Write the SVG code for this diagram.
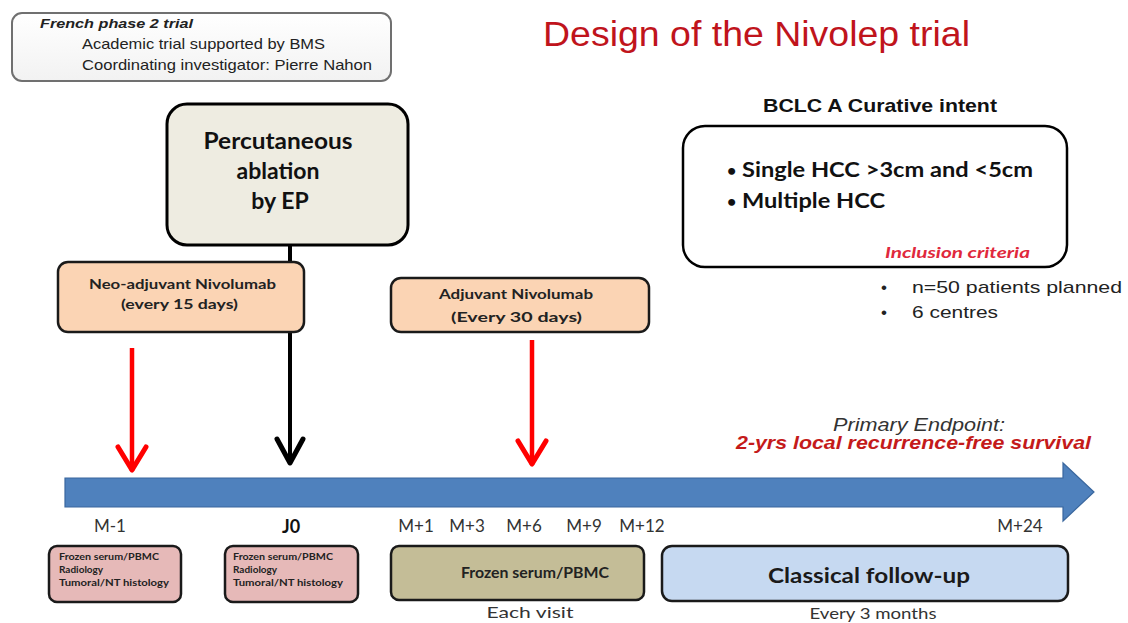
<svg xmlns="http://www.w3.org/2000/svg" width="1128" height="623" viewBox="0 0 1128 623">
<defs>
<style>
.ar{font-family:"Liberation Sans",Arial,sans-serif}
.ca{font-family:Lato,"Open Sans",sans-serif}
.b{font-weight:bold}
.it{font-style:italic}
.box{stroke:#1a1a1a;stroke-width:2.5}
.mid{text-anchor:middle}
</style>
<linearGradient id="info-grad" x1="0" y1="0" x2="0" y2="1">
<stop offset="0" stop-color="#ffffff"/>
<stop offset="1" stop-color="#f2f2f2"/>
</linearGradient>
<marker id="chev-red" markerUnits="userSpaceOnUse" markerWidth="40" markerHeight="40" viewBox="-30 -20 40 40" refX="0" refY="0" orient="auto" overflow="visible">
<path d="M-24,-14 L-1,0 L-24,14" fill="none" stroke="#ff0000" stroke-width="5" stroke-linejoin="round" stroke-linecap="round"/>
</marker>
<marker id="chev-black" markerUnits="userSpaceOnUse" markerWidth="40" markerHeight="40" viewBox="-30 -20 40 40" refX="0" refY="0" orient="auto" overflow="visible">
<path d="M-25,-13 L-1,0 L-25,13" fill="none" stroke="#000" stroke-width="5" stroke-linejoin="round" stroke-linecap="round"/>
</marker>
</defs>
<rect width="1128" height="623" fill="#fff"/>

<g id="info-box">
<rect x="12" y="13" width="379" height="68" rx="10" fill="url(#info-grad)" stroke="#707070" stroke-width="2"/>
<text class="ar b it" x="40" y="28" font-size="13" fill="#222" textLength="153" lengthAdjust="spacingAndGlyphs">French phase 2 trial</text>
<text class="ar" x="82" y="49" font-size="15" fill="#222" textLength="243" lengthAdjust="spacingAndGlyphs">Academic trial supported by BMS</text>
<text class="ar" x="82" y="70" font-size="15" fill="#222" textLength="290" lengthAdjust="spacingAndGlyphs">Coordinating investigator: Pierre Nahon</text>
</g>

<g id="title">
<text class="ar" x="543" y="46" font-size="35" fill="#c0141c" textLength="427" lengthAdjust="spacingAndGlyphs">Design of the Nivolep trial</text>
</g>

<g id="connectors">
<line x1="290" y1="245" x2="290" y2="464" stroke="#000" stroke-width="4" marker-end="url(#chev-black)"/>
<line x1="132" y1="348" x2="132" y2="471" stroke="#ff0000" stroke-width="4.5" marker-end="url(#chev-red)"/>
<line x1="532" y1="340" x2="532" y2="465" stroke="#ff0000" stroke-width="4.5" marker-end="url(#chev-red)"/>
</g>

<g id="ablation">
<rect x="167" y="104" width="241" height="141" rx="20" fill="#eeece1" stroke="#000" stroke-width="3"/>
<text class="ca b mid" x="278" y="149" font-size="23" fill="#111" textLength="149" lengthAdjust="spacingAndGlyphs">Percutaneous</text>
<text class="ca b mid" x="278" y="179" font-size="23" fill="#111">ablation</text>
<text class="ca b mid" x="280" y="209" font-size="23" fill="#111">by EP</text>
</g>

<g id="neoadjuvant">
<rect x="58" y="262" width="246" height="70" rx="10" fill="#fbd4b4" class="box"/>
<text class="ca b" x="89" y="289" font-size="14" fill="#222" textLength="187" lengthAdjust="spacingAndGlyphs">Neo-adjuvant Nivolumab</text>
<text class="ca b" x="121" y="309" font-size="14" fill="#222" textLength="117" lengthAdjust="spacingAndGlyphs">(every 15 days)</text>
</g>

<g id="adjuvant">
<rect x="391" y="278" width="258" height="54" rx="10" fill="#fbd4b4" class="box"/>
<text class="ca b" x="439" y="299" font-size="14" fill="#222" textLength="154" lengthAdjust="spacingAndGlyphs">Adjuvant Nivolumab</text>
<text class="ca b" x="451" y="322" font-size="14" fill="#222" textLength="131" lengthAdjust="spacingAndGlyphs">(Every 30 days)</text>
</g>

<g id="criteria">
<text class="ar b" x="763" y="112" font-size="19" fill="#111" textLength="234" lengthAdjust="spacingAndGlyphs">BCLC A Curative intent</text>
<rect x="683" y="126" width="384" height="141" rx="22" fill="#fff" stroke="#000" stroke-width="2.5"/>
<text class="ca b" x="727" y="176" font-size="16" fill="#111">•</text>
<text class="ca b" x="742" y="177" font-size="20" fill="#111" textLength="291" lengthAdjust="spacingAndGlyphs">Single HCC &gt;3cm and &lt;5cm</text>
<text class="ca b" x="727" y="207" font-size="16" fill="#111">•</text>
<text class="ca b" x="742" y="208" font-size="20" fill="#111" textLength="143" lengthAdjust="spacingAndGlyphs">Multiple HCC</text>
<text class="ca b it" x="885" y="258" font-size="15" fill="#e0283c" textLength="145" lengthAdjust="spacingAndGlyphs">Inclusion criteria</text>
</g>

<g id="study-size">
<text class="ar" x="881" y="293" font-size="17" fill="#222">•</text>
<text class="ar" x="912" y="293" font-size="17" fill="#222" textLength="210" lengthAdjust="spacingAndGlyphs">n=50 patients planned</text>
<text class="ar" x="881" y="318" font-size="17" fill="#222">•</text>
<text class="ar" x="912" y="318" font-size="17" fill="#222" textLength="86" lengthAdjust="spacingAndGlyphs">6 centres</text>
</g>

<g id="endpoint">
<text class="ar it" x="833" y="431" font-size="18" fill="#333" textLength="172" lengthAdjust="spacingAndGlyphs">Primary Endpoint:</text>
<text class="ar b it" x="736" y="449" font-size="18" fill="#c41a1a" textLength="355" lengthAdjust="spacingAndGlyphs">2-yrs local recurrence-free survival</text>
</g>

<g id="timeline">
<path d="M65,478 L1063,478 L1063,463 L1094,492 L1063,521 L1063,507 L65,507 Z" fill="#4f81bd" stroke="#3a679e" stroke-width="1.2"/>
<g class="ca mid" font-size="17" fill="#333">
<text x="110" y="532">M-1</text>
<text x="291" y="533" font-weight="bold" font-size="18" fill="#111">J0</text>
<text x="416" y="532">M+1</text>
<text x="467" y="532">M+3</text>
<text x="524" y="532">M+6</text>
<text x="584" y="532">M+9</text>
<text x="642" y="532">M+12</text>
<text x="1020" y="532">M+24</text>
</g>
</g>

<g id="samples-m1">
<rect x="49" y="546" width="132" height="56" rx="8" fill="#e6b9b8" class="box"/>
<text class="ca b" x="59" y="560" font-size="10" fill="#222" textLength="100" lengthAdjust="spacingAndGlyphs">Frozen serum/PBMC</text>
<text class="ca b" x="59" y="573" font-size="10" fill="#222">Radiology</text>
<text class="ca b" x="59" y="586" font-size="10" fill="#222" textLength="110" lengthAdjust="spacingAndGlyphs">Tumoral/NT histology</text>
</g>

<g id="samples-j0">
<rect x="225" y="546" width="133" height="56" rx="8" fill="#e6b9b8" class="box"/>
<text class="ca b" x="233" y="560" font-size="10" fill="#222" textLength="100" lengthAdjust="spacingAndGlyphs">Frozen serum/PBMC</text>
<text class="ca b" x="233" y="573" font-size="10" fill="#222">Radiology</text>
<text class="ca b" x="233" y="586" font-size="10" fill="#222" textLength="110" lengthAdjust="spacingAndGlyphs">Tumoral/NT histology</text>
</g>

<g id="samples-visits">
<rect x="391" y="546" width="253" height="54" rx="8" fill="#c4bd97" class="box"/>
<text class="ca b mid" x="535" y="578" font-size="15" fill="#222" textLength="148" lengthAdjust="spacingAndGlyphs">Frozen serum/PBMC</text>
<text class="ca mid" x="530" y="618" font-size="15" fill="#333" textLength="87" lengthAdjust="spacingAndGlyphs">Each visit</text>
</g>

<g id="follow-up">
<rect x="662" y="546" width="406" height="55" rx="10" fill="#c6d9f1" class="box"/>
<text class="ca b mid" x="869" y="583" font-size="20" fill="#1a1a1a" textLength="202" lengthAdjust="spacingAndGlyphs">Classical follow-up</text>
<text class="ca mid" x="873" y="619" font-size="15" fill="#333" textLength="127" lengthAdjust="spacingAndGlyphs">Every 3 months</text>
</g>
</svg>
